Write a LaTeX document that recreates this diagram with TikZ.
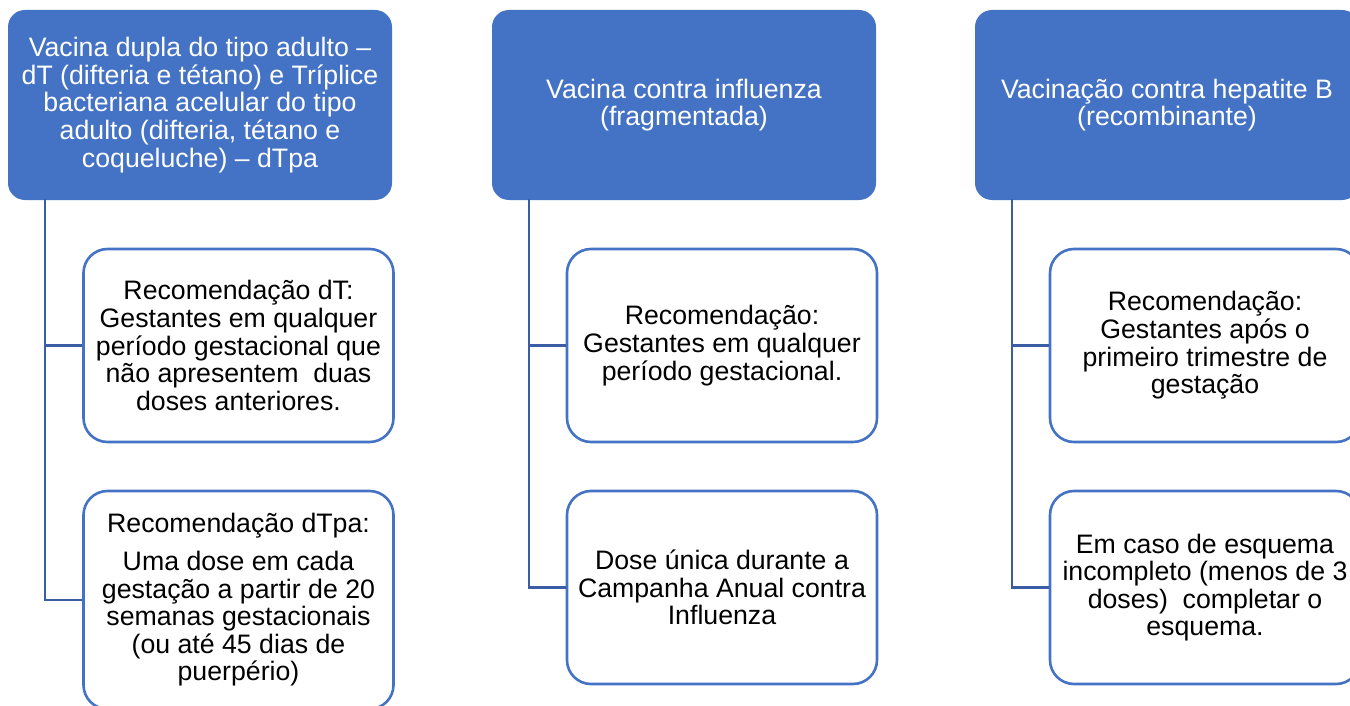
\documentclass[tikz,border=0pt]{standalone}
\usepackage{fontspec}
\setmainfont{Liberation Sans}
\definecolor{accent}{HTML}{4472C4}
\definecolor{linkc}{HTML}{3A5DA5}
\begin{document}
\begin{tikzpicture}[x=1pt,y=-1pt,
  every node/.style={font=\fontsize{26.7pt}{27.6pt}\selectfont, align=center, inner sep=0pt},
  topbox/.style={fill=accent, draw=none, rounded corners=17pt, text=white,
    minimum width=384pt, minimum height=190pt},
  childbox/.style={fill=white, draw=accent, line width=2.6pt, rounded corners=24pt, text=black,
    minimum width=310pt, minimum height=193pt},
  link/.style={draw=linkc, line width=2.6pt}]
\path[use as bounding box] (0,0) rectangle (1350,706);
\clip (0,0) rectangle (1350,706);
\fill[white] (0,0) rectangle (1350,706);

% top boxes
\node[topbox] (t1) at (200,105) {Vacina dupla do tipo adulto –\\dT (difteria e tétano) e Tríplice\\bacteriana acelular do tipo\\adulto (difteria, tétano e\\coqueluche) – dTpa};
\node[topbox] (t2) at (684,105) {Vacina contra influenza\\(fragmentada)};
\node[topbox] (t3) at (1167,105) {Vacinação contra hepatite B\\(recombinante)};

% connector start points
\coordinate (s1) at (45,199);
\coordinate (s2) at (529,199);
\coordinate (s3) at (1012,199);

% child boxes
\node[childbox] (c1a) at (238.5,345.5) {Recomendação dT:\\Gestantes em qualquer\\período gestacional que\\não apresentem\ \ duas\\doses anteriores.};
\node[childbox, minimum height=218pt] (c1b) at (238.5,600) {Recomendação dTpa:\\[10pt]Uma dose em cada\\gestação a partir de 20\\semanas gestacionais\\(ou até 45 dias de\\puerpério)};
\node[childbox] (c2a) at (722,345.5) {Recomendação:\\Gestantes em qualquer\\período gestacional.};
\node[childbox] (c2b) at (722,587.5) {Dose única durante a\\Campanha Anual contra\\Influenza};
\node[childbox] (c3a) at (1205,345.5) {Recomendação:\\Gestantes após o\\primeiro trimestre de\\gestação};
\node[childbox] (c3b) at (1205,587.5) {Em caso de esquema\\incompleto (menos de 3\\doses)\ \ completar o\\esquema.};

% connectors
\draw[link] (s1) |- (c1a.west);
\draw[link] (s1) |- (c1b.west);
\draw[link] (s2) |- (c2a.west);
\draw[link] (s2) |- (c2b.west);
\draw[link] (s3) |- (c3a.west);
\draw[link] (s3) |- (c3b.west);
\end{tikzpicture}
\end{document}
